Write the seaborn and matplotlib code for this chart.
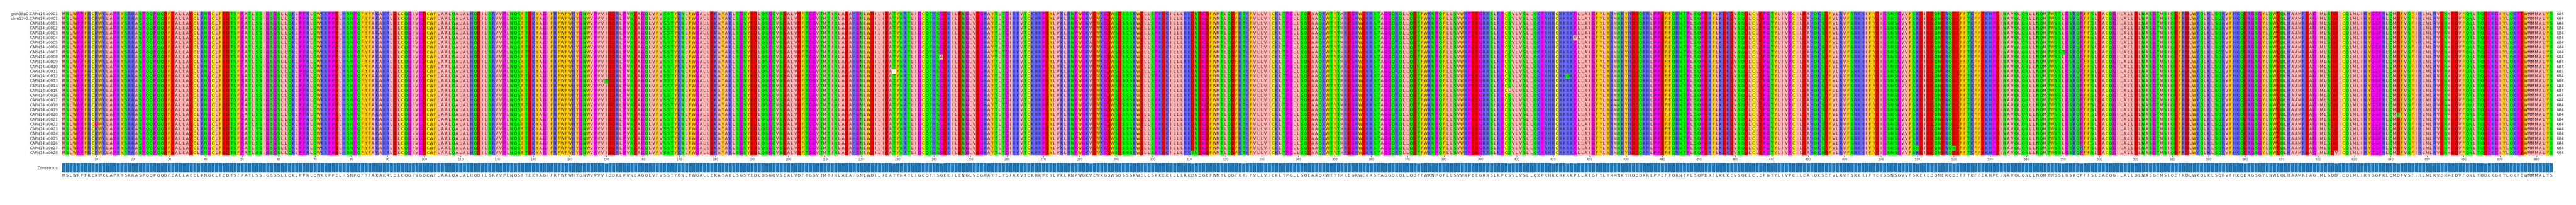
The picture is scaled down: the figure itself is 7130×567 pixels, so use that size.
import numpy as np
import pandas as pd
import seaborn as sns
import matplotlib
matplotlib.use("Agg")
import matplotlib.pyplot as plt
from matplotlib.colors import ListedColormap

# ---- data ----
reference_seq = (
    "MSLWPPFRCRWKLAPRYSRRASPQQPQQDFEALLAECLRNGCLFEDTSFPATLSSIGSGSLLQKLPPRLQWKRPPELHSNPQFYFAKAKRLDLCQGIVGDCWFLAALQALALHQDILSRVVPLNQSFTEKYAGIFRFWFWHYGNWVPVVIDDRLPVNEAGQLVFVSSTYKNLFWGALLEKAYAKLSGSYEDLQSGQVSEALVDFTGGVTMTINLAEAHGNLWDILIEATYNRTLIGCQTHSGEKILENGLVEGHAYTLTGIRKVTCKHRPEYLVKLRNPWGKVEWKGDWSDSSSKWELLSPKEKILLLRKDNDGEFWMTLQDFKTHFVLLVICKLTPGLLSQEAAQKWTYTMREGRWEKRSTAGGQRQLLQDTFWKNPQFLLSVWRPEEGRRSLRPCSVLVSLLQKPRHRCRKRKPLLAIGFYLYRMNKYHDDQRRLPPEFFQRNTPLSQPDRFLKEKEVSQELCLEPGTYLIVPCILEAHQKSEFVLRVFSRKHIFYEIGSNSGVVFSKEIEDQNERQDEFFTKFFEKHPEINAVQLQNLLNQMTWSSLGSRQPFFSLEACQGILALLDLNASGTMSIQEFRDLWKQLKLSQKVFHKQDRGSGYLNWEQLHAAMREAGIMLSDDICQLMLIRYGGPRLQMDFVSFIHLMLRVENMEDVFQNLTQDGKGIYLQKPEWMMMALYS"
)
seq_names = ["grch38p0:CAPN14:a0001", "chm13v2:CAPN14:a0001"] + [f"CAPN14:a{i:04d}" for i in range(1, 29)]
# variants: (row index, 1-based column, residue)
variants = [
    (23, 10, "G"), (28, 122, "P"), (29, 122, "P"), (14, 150, "T"), (12, 229, "-"),
    (9, 242, "A"), (20, 277, "R"), (6, 283, "A"), (29, 311, "S"), (18, 325, "S"),
    (11, 373, "N"), (16, 398, "L"), (7, 410, "H"), (13, 414, "Q"), (5, 416, "V"),
    (28, 510, "N"), (28, 520, "N"), (8, 550, "T"), (28, 555, "H"), (10, 600, "E"),
    (29, 625, "V"), (21, 642, "N"), (4, 666, "E"),
]
seq_lengths = [684] * 30
seq_lengths[12] = 683

# ---- build alignment ----
n_rows, n_cols = len(seq_names), len(reference_seq)
aln = np.array([list(reference_seq) for _ in range(n_rows)])
for r, c, aa in variants:
    aln[r, c - 1] = aa

groups = {"AVLIM": "#ffafaf", "FWY": "#ffc800", "KRH": "#6464ff", "DE": "#ff0000",
          "STNQ": "#00ff00", "PG": "#ff00ff", "C": "#ffff00", "-": "#ffffff"}
keys = list(groups.keys())
code = {aa: i for i, g in enumerate(keys) for aa in g}
codes = np.vectorize(code.get)(aln)
cmap = ListedColormap([groups[k] for k in keys])

cons = []
ident = []
for j in range(n_cols):
    col = pd.Series(aln[:, j])
    vc = col.value_counts()
    cons.append(vc.index[0])
    ident.append(vc.iloc[0] / n_rows)

# ---- plot ----
W, H = 7130, 567
fig = plt.figure(figsize=(W / 100, H / 100), dpi=100)
ax = fig.add_axes([171 / W, 1 - 430 / H, (7066 - 171) / W, (430 - 32) / H])
sns.heatmap(codes, ax=ax, cmap=cmap, vmin=-0.5, vmax=len(keys) - 0.5, cbar=False,
            annot=aln, fmt="", annot_kws={"fontsize": 7.5, "color": "#222222"},
            xticklabels=False, yticklabels=seq_names)
ax.tick_params(axis="y", length=0, labelsize=7.5, pad=8)
for t in ax.get_yticklabels():
    t.set_color("#333333")
ticks = np.arange(10, n_cols + 1, 10)
ax.set_xticks(ticks - 0.5)
ax.set_xticklabels([str(t) for t in ticks], fontsize=6, color="#333333")
ax.tick_params(axis="x", length=3, width=0.6, pad=2)
for i, L in enumerate(seq_lengths):
    ax.text(n_cols + 1.0, i + 0.5, str(L), va="center", ha="left", fontsize=7.5, color="#222222")
for s in ax.spines.values():
    s.set_visible(False)

bx = fig.add_axes([171 / W, 1 - 477 / H, (7066 - 171) / W, (477 - 451) / H])
df = pd.DataFrame({"pos": np.arange(n_cols), "ident": ident})
sns.barplot(data=df, x="pos", y="ident", ax=bx, color="#1f77b4", width=1.0,
            edgecolor="#d0e4f2", linewidth=0.6, saturation=1, native_scale=True)
bx.set_xlim(-0.5, n_cols - 0.5)
bx.set_ylim(0, 1)
bx.set_xticks(np.arange(n_cols))
bx.set_xticklabels(cons, fontsize=7.5, color="#333333")
bx.tick_params(axis="x", length=0, pad=3)
bx.set_yticks([0.5])
bx.set_yticklabels(["Consensus"], fontsize=7.5, color="#333333")
bx.tick_params(axis="y", length=0, pad=8)
bx.set_xlabel("")
bx.set_ylabel("")
for s in bx.spines.values():
    s.set_visible(False)

fig.savefig("out.png", dpi=100)
